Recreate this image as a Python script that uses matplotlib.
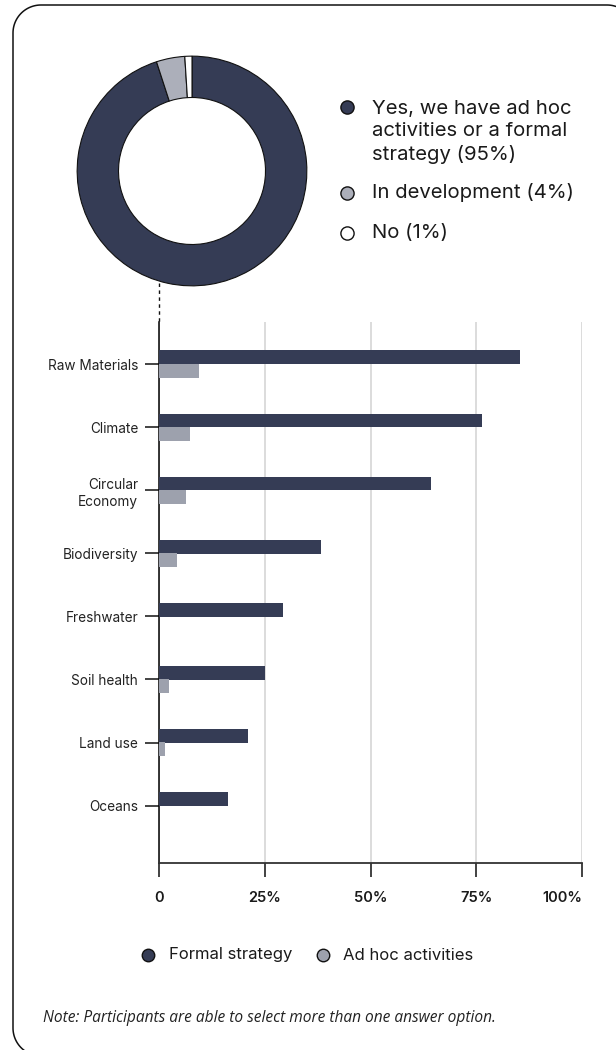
import numpy as np
import matplotlib
matplotlib.use("Agg")
import matplotlib.pyplot as plt

# ---- data ----
pie_labels = ["Yes, we have ad hoc\nactivities or a formal\nstrategy (95%)",
              "In development (4%)", "No (1%)"]
pie_values = [95, 4, 1]

categories = ["Raw Materials", "Climate", "Circular\nEconomy", "Biodiversity",
              "Freshwater", "Soil health", "Land use", "Oceans"]
formal = [85.3, 76.4, 64.3, 38.3, 29.3, 25.0, 21.0, 16.3]
adhoc = [9.5, 7.3, 6.4, 4.3, 0, 2.4, 1.4, 0]
series_labels = ["Formal strategy", "Ad hoc activities"]
xticks = [0, 25, 50, 75, 100]
xticklabels = ["0", "25%", "50%", "75%", "100%"]
note = "Note: Participants are able to select more than one answer option."

# ---- style ----
DARK = "#353c55"
GREY_PIE = "#acafba"
GREY_BAR = "#9da1ad"
W, H = 616, 1050

fig = plt.figure(figsize=(W / 100, H / 100), dpi=100)
fig.patch.set_facecolor("white")

# overlay in pixel coords (y down) for frame / legends / note
ov = fig.add_axes([0, 0, 1, 1], zorder=0)
ov.set_xlim(0, W)
ov.set_ylim(H, 0)
ov.axis("off")

# rounded frame: only left edge, top edge and the start of the top-right corner
rr = 28
fl, ft, fb = 13, 5, 1056
t1 = np.linspace(np.pi / 2, 0, 30)
t2 = np.linspace(0, np.pi / 2, 30)
t3 = np.linspace(0, 0.33, 8)
fx = np.concatenate([fl + rr - rr * np.cos(t1), fl + rr - rr * np.cos(t2),
                     607 + rr * np.sin(t3)])
fy = np.concatenate([fb - rr + rr * np.sin(t1), ft + rr - rr * np.sin(t2),
                     ft + rr - rr * np.cos(t3)])
ov.plot(fx, fy, color="#111111", lw=1.1, solid_capstyle="butt")

# ---- donut ----
cx, cy, r = 192, 171, 116
ax_pie = fig.add_axes([(cx - r) / W, 1 - (cy + r) / H, 2 * r / W, 2 * r / H], zorder=2)
ax_pie.pie(pie_values, colors=[DARK, GREY_PIE, "white"], startangle=90,
           counterclock=False, radius=1,
           wedgeprops=dict(width=0.36, edgecolor="#111111", linewidth=0.8))
ax_pie.set_xlim(-1.01, 1.01)
ax_pie.set_ylim(-1.01, 1.01)
ax_pie.set_aspect("equal")
ax_pie.axis("off")

# top legend
pie_marker_colors = [DARK, GREY_PIE, "white"]
marker_y = [107, 193, 233]
text_y = [132, 193, 233]
for lab, col, my, ty in zip(pie_labels, pie_marker_colors, marker_y, text_y):
    ov.plot(347, my, "o", ms=9.5, mfc=col, mec="#111111", mew=1.0)
    ov.text(372, ty, lab, fontsize=14.6, family="Inter", color="#1a1a1a",
            va="center", ha="left", linespacing=1.3)

# ---- bars ----
left, right, top, bottom = 159, 582, 322, 863
ax = fig.add_axes([left / W, 1 - bottom / H, (right - left) / W, (bottom - top) / H], zorder=1)
ax.set_facecolor("none")
y = np.arange(len(categories))
bh = 0.22
ax.barh(y - 0.105, formal, height=bh, color=DARK, zorder=3, label=series_labels[0])
ax.barh(y + 0.105, adhoc, height=bh, color=GREY_BAR, zorder=3, label=series_labels[1])
ax.set_xlim(0, 100)
ax.set_ylim(7.91, -0.666)
ax.set_yticks(y)
ax.set_yticklabels(categories, fontsize=9.8, family="Inter", color="#222222",
                   linespacing=1.3)
ax.set_xticks(xticks)
ax.set_xticklabels(xticklabels, fontsize=10.5, family="Inter", fontweight="semibold",
                   color="#1a1a1a")
ax.get_xticklabels()[-1].set_horizontalalignment("right")
ax.tick_params(axis="y", length=10, width=1.1, color="#111111", pad=5)
ax.tick_params(axis="x", length=10, width=1.3, color="#333333", pad=10)
for t in ax.get_yticklabels():
    t.set_multialignment("right")
ax.grid(axis="x", color="#d9d9d9", lw=1.3, zorder=0)
ax.spines["top"].set_visible(False)
ax.spines["right"].set_visible(False)
ax.spines["left"].set_linewidth(1.1)
ax.spines["bottom"].set_linewidth(1.3)
ax.spines["bottom"].set_color("#333333")

# dashed connector donut -> axis
ov.plot([159, 159], [283, 322], ls=(0, (2.5, 2.5)), color="#111111", lw=1.0)

# bottom legend
for lab, col, mx, tx in zip(series_labels, [DARK, GREY_BAR], [148, 323], [169, 343]):
    ov.plot(mx, 955, "o", ms=9, mfc=col, mec="#111111", mew=1.0)
    ov.text(tx, 955, lab, fontsize=12, family="Inter", color="#1a1a1a",
            va="center", ha="left")

# note
ov.text(43, 1018, note, fontsize=11.2, family="Open Sans", style="italic",
        color="#222222", va="center", ha="left")

fig.savefig("out.png", dpi=100, facecolor="white")
